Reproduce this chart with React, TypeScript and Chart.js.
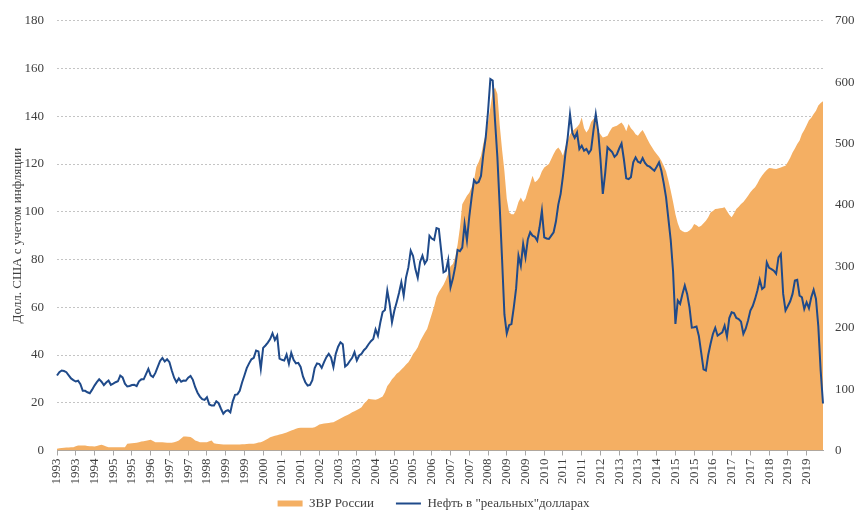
import React, { useEffect, useRef } from 'react';
import { Chart, registerables } from 'chart.js';

Chart.register(...registerables);

const START_YEAR = 1993;

// Oil, real US dollars (left axis), monthly Jan 1993 .. Apr 2020
const oilPrice = [
  31.4, 32.8, 33.5, 33.3, 32.8, 31.5, 30.2, 29.5, 28.9, 29.2, 27.8, 25.0,
  25.0, 24.4, 24.0, 25.5, 27.2, 28.6, 29.8, 28.8, 27.4, 28.5, 29.3, 27.5,
  28.0, 28.6, 29.0, 31.4, 30.6, 28.0, 26.8, 27.0, 27.4, 27.5, 27.0, 29.0,
  29.8, 29.8, 32.0, 34.2, 31.5, 30.8, 32.5, 35.0, 37.5, 38.8, 37.3, 38.2,
  37.0, 33.5, 30.5, 28.6, 30.2, 28.8, 29.3, 29.2, 30.5, 31.2, 29.6, 26.5,
  24.2, 22.6, 21.5, 21.2, 22.3, 19.3, 18.8, 18.8, 20.6, 19.8, 17.5, 15.4,
  16.5, 16.9, 16.0, 20.5, 23.3, 23.5, 25.0, 28.5, 31.4, 34.5, 36.5, 38.2,
  38.8, 41.9, 41.5, 34.2, 43.0, 44.0, 45.2, 46.7, 49.1, 46.3, 48.1, 38.5,
  38.0, 37.7, 40.2, 36.3, 40.9, 38.0, 36.5, 36.7, 35.0, 31.0, 28.6, 27.2,
  27.5, 29.5, 34.5, 36.5, 36.2, 34.6, 37.0, 39.1, 40.5, 39.0, 34.9, 40.5,
  43.5, 45.3, 44.5, 35.2, 36.0, 37.5, 38.8, 41.2, 37.7, 39.8, 40.5, 42.0,
  43.0, 44.5, 45.8, 46.7, 50.7, 48.1, 53.5, 58.0, 58.9, 67.0, 61.4, 53.7,
  58.5, 62.1, 66.0, 70.5, 64.9, 72.5, 76.7, 83.7, 81.5, 76.0, 72.3, 79.0,
  81.6, 78.3, 79.8, 90.0, 88.8, 88.2, 93.2, 92.8, 83.7, 74.6, 75.2, 79.8,
  68.4, 72.0, 77.0, 84.0, 83.5, 85.0, 94.9, 88.0, 98.0, 106.0, 113.3, 112.0,
  112.5, 115.0, 124.0, 131.0, 142.0, 155.6, 155.0, 138.0, 122.8, 102.0, 80.0, 57.0,
  49.0, 52.5, 53.0, 60.0, 68.0, 81.6, 77.4, 86.5, 80.9, 88.5, 91.4, 90.0,
  89.5, 87.9, 93.5, 100.5, 89.3, 88.8, 88.6, 90.0, 91.4, 96.0, 103.0, 107.5,
  115.0, 124.0, 131.0, 140.9, 133.0, 131.0, 133.2, 126.3, 127.7, 125.6, 126.3, 124.5,
  126.0, 134.0, 140.9, 134.0, 122.0, 107.5, 116.0, 127.0, 126.0, 125.0, 123.0, 124.0,
  126.5, 128.6, 122.0, 114.0, 113.7, 114.5, 120.7, 122.8, 121.0, 120.5, 122.5, 120.5,
  119.3, 118.9, 118.0, 117.2, 118.9, 120.7, 117.2, 112.0, 106.0, 97.0, 88.0, 75.0,
  53.0, 62.8, 61.4, 65.6, 69.1, 65.6, 60.0, 51.5, 51.6, 51.9, 48.0, 41.0,
  34.0, 33.5, 40.0, 44.7, 48.8, 51.4, 48.1, 48.8, 49.5, 52.3, 47.7, 55.5,
  57.9, 57.6, 55.5, 55.1, 54.0, 48.8, 51.0, 54.5, 58.6, 60.5, 63.5, 67.0,
  71.5, 67.7, 68.5, 78.8, 76.5, 76.0, 75.3, 74.0, 80.9, 82.3, 65.6, 58.6,
  60.5, 62.5, 65.6, 71.2, 71.5, 64.9, 64.2, 59.3, 62.1, 59.6, 64.2, 67.3,
  63.5, 52.0, 33.5, 19.7,
];

// Russia's international reserves, bn USD (right axis), monthly Jan 1993 .. Apr 2020
const reserves = [
  3.0, 3.5, 4.0, 4.5, 5.0, 5.0, 5.2, 5.4, 7.0, 8.0, 8.0, 8.1,
  8.0, 7.5, 7.0, 6.8, 6.5, 7.5, 8.5, 9.2, 8.1, 6.5, 5.4, 5.4,
  5.4, 5.4, 5.4, 5.4, 5.4, 5.4, 10.9, 11.5, 12.0, 12.2, 12.5, 13.5,
  14.5, 15.2, 16.0, 16.8, 17.4, 15.5, 13.6, 13.6, 13.6, 13.6, 13.0, 12.8,
  12.5, 12.5, 13.5, 14.5, 16.3, 19.5, 22.8, 23.0, 22.5, 22.0, 19.5, 16.3,
  15.0, 13.6, 13.6, 13.6, 13.6, 15.0, 16.3, 12.0, 11.0, 10.5, 10.0, 9.8,
  9.8, 9.8, 9.8, 9.8, 9.8, 9.8, 9.8, 10.0, 10.3, 10.5, 10.9, 10.9,
  10.9, 12.0, 13.0, 13.6, 15.0, 17.0, 19.0, 21.7, 23.0, 24.0, 25.0, 26.0,
  27.0, 28.0, 29.5, 31.0, 32.6, 34.0, 35.5, 36.5, 37.0, 37.0, 37.0, 37.0,
  37.0, 37.0, 38.0, 40.0, 42.3, 43.0, 44.0, 44.5, 45.0, 45.5, 46.1, 48.0,
  50.0, 52.0, 54.2, 56.0, 58.0, 60.0, 62.4, 64.0, 66.0, 68.0, 70.5, 76.0,
  80.0, 84.2, 83.5, 83.0, 82.5, 84.0, 86.0, 87.9, 95.0, 105.0, 110.0, 116.0,
  120.0, 124.9, 128.0, 132.0, 135.6, 140.0, 143.8, 150.0, 157.4, 162.0, 168.2, 178.0,
  185.0, 192.0, 198.1, 210.0, 222.5, 235.0, 250.0, 258.0, 264.0, 270.0, 278.0, 288.0,
  300.0, 304.0, 315.0, 335.0, 363.0, 401.0, 408.0, 415.0, 420.0, 428.7, 440.0, 462.0,
  470.0, 480.0, 500.0, 515.6, 535.0, 558.9, 585.0, 591.4, 580.7, 530.0, 490.0, 455.0,
  410.0, 388.0, 385.0, 385.0, 392.0, 405.0, 412.0, 405.0, 410.0, 423.0, 435.0, 447.7,
  437.0, 440.0, 445.0, 455.0, 461.0, 464.0, 466.7, 475.0, 483.0, 490.0, 493.8, 488.4,
  480.3, 495.0, 504.7, 515.0, 520.0, 523.7, 527.0, 532.0, 542.6, 525.0, 518.2, 523.7,
  535.0, 540.0, 542.6, 520.0, 515.0, 510.0, 511.0, 512.8, 520.0, 526.3, 528.0, 529.1,
  532.0, 534.5, 529.1, 520.0, 531.8, 525.0, 521.0, 515.0, 512.8, 518.0, 522.1, 515.0,
  507.4, 500.0, 494.0, 488.0, 483.0, 478.0, 472.1, 464.0, 455.0, 440.0, 423.3, 405.0,
  385.0, 370.0, 360.0, 357.0, 355.4, 356.0, 358.2, 362.0, 369.1, 367.0, 364.0, 366.0,
  370.0, 374.4, 380.0, 387.9, 390.0, 393.4, 394.0, 394.5, 395.0, 396.1, 390.0, 384.0,
  379.8, 386.0, 393.4, 397.0, 401.6, 405.0, 409.8, 415.0, 420.6, 425.0, 428.7, 435.0,
  442.3, 448.0, 453.0, 457.0, 460.2, 460.0, 459.0, 458.6, 460.0, 461.2, 462.5, 464.0,
  470.0, 477.0, 485.6, 492.0, 499.3, 505.0, 515.6, 522.0, 530.0, 538.0, 542.0, 548.0,
  553.5, 562.0, 566.0, 569.0,
];

// One category per month; the year is the label
const monthLabels = oilPrice.map((_, i) => String(START_YEAR + Math.floor(i / 12)));
const LABEL_EVERY = 8;

const ORANGE = '#F4AF63';
const BLUE = '#1F4A8A';
const TEXT = '#404040';
const FONT = "'Liberation Serif', 'Times New Roman', serif";

export default function App() {
  const ref = useRef<HTMLCanvasElement>(null);

  useEffect(() => {
    const chart = new Chart(ref.current as HTMLCanvasElement, {
      type: 'line',
      data: {
        labels: monthLabels,
        datasets: [
          {
            label: 'ЗВР России',
            data: reserves,
            yAxisID: 'y2',
            fill: 'origin',
            backgroundColor: ORANGE,
            borderColor: ORANGE,
            borderWidth: 0,
            pointRadius: 0,
            tension: 0,
            order: 2,
          },
          {
            label: 'Нефть в "реальных"долларах',
            data: oilPrice,
            yAxisID: 'y',
            fill: false,
            borderColor: BLUE,
            borderWidth: 2,
            pointRadius: 0,
            tension: 0,
            order: 1,
          },
        ],
      },
      options: {
        animation: false,
        responsive: true,
        maintainAspectRatio: false,
        layout: { padding: { top: 20, left: 0, right: 0, bottom: 1 } },
        plugins: {
          tooltip: { enabled: false },
          legend: {
            position: 'bottom',
            labels: {
              usePointStyle: true,
              pointStyleWidth: 25,
              boxHeight: 6,
              padding: 22,
              color: TEXT,
              font: { family: FONT, size: 13 },
              generateLabels: () => [
                {
                  text: 'ЗВР России',
                  fillStyle: ORANGE,
                  strokeStyle: ORANGE,
                  lineWidth: 0,
                  pointStyle: 'rect',
                  datasetIndex: 0,
                  hidden: false,
                  fontColor: TEXT,
                },
                {
                  text: 'Нефть в "реальных"долларах',
                  fillStyle: BLUE,
                  strokeStyle: BLUE,
                  lineWidth: 2,
                  pointStyle: 'line',
                  datasetIndex: 1,
                  hidden: false,
                  fontColor: TEXT,
                },
              ],
            },
          },
        },
        scales: {
          x: {
            type: 'category',
            offset: false,
            grid: { drawOnChartArea: false, drawTicks: true, tickLength: 5, color: '#a6a6a6' },
            border: { display: true, color: '#a6a6a6' },
            ticks: {
              autoSkip: false,
              maxRotation: 90,
              minRotation: 90,
              padding: 3,
              color: TEXT,
              font: { family: FONT, size: 13 },
            },
            afterBuildTicks: (scale: any) => {
              scale.ticks = scale.ticks.filter((t: any) => t.value % LABEL_EVERY === 0);
            },
            afterFit: (scale: any) => {
              scale.height = 24.5;
              // let the rotated year labels extend below the (shortened) axis box
              scale._computeLabelArea = () => null;
            },
          },
          y: {
            position: 'left',
            min: 0,
            max: 180,
            ticks: { stepSize: 20, padding: 13, color: TEXT, font: { family: FONT, size: 13 } },
            grid: { color: '#c4c4c4', lineWidth: 1, drawTicks: false },
            border: { display: false, dash: [2, 2] },
            title: {
              display: true,
              text: 'Долл. США с учетом инфляции',
              color: TEXT,
              font: { family: FONT, size: 13 },
              padding: { top: 10, bottom: 0 },
            },
            afterFit: (scale: any) => {
              scale.width = 57;
            },
          },
          y2: {
            position: 'right',
            min: 0,
            max: 700,
            ticks: { stepSize: 100, padding: 12, color: TEXT, font: { family: FONT, size: 13 } },
            grid: { drawOnChartArea: false, drawTicks: false },
            border: { display: false },
            afterFit: (scale: any) => {
              scale.width = 44;
            },
          },
        },
      },
    } as any);
    return () => chart.destroy();
  }, []);

  return (
    <div style={{ position: 'fixed', left: 0, top: 0, width: 867, height: 521, background: '#fff' }}>
      <canvas ref={ref} />
    </div>
  );
}
